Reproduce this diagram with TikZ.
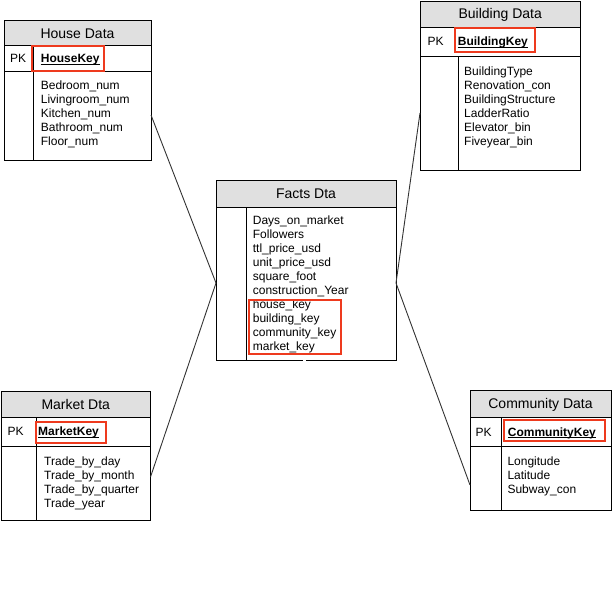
\documentclass[tikz,border=0pt]{standalone}
\usepackage{fontspec}
\setmainfont{Liberation Sans}
\definecolor{hdrgray}{HTML}{E0E0E0}
\definecolor{keyred}{HTML}{EE3A1E}
\definecolor{edgegray}{HTML}{333333}

\begin{document}
\begin{tikzpicture}[x=1pt,y=-1pt,
  tbox/.style={draw=black, line width=1pt, inner sep=0pt, outer sep=0pt, anchor=north west},
  hdr/.style={tbox, fill=hdrgray, font=\fontsize{14}{16}\selectfont, text height=10pt, text depth=0pt},
  rowline/.style={draw=black, line width=1pt},
  keybox/.style={draw=keyred, line width=2pt, inner sep=0pt, outer sep=0pt, anchor=north west},
  fld/.style={anchor=base west, inner sep=0pt, font=\fontsize{12}{14}\selectfont},
  keytxt/.style={fld, font=\fontsize{12}{14}\selectfont\bfseries},
  uline/.style={draw=black, line width=0.9pt},
  link/.style={draw=edgegray, line width=0.9pt}
]
\useasboundingbox (0,0) rectangle (616,597);

% ---------------- House Data ----------------
\node[tbox, minimum width=147, minimum height=139.5] (house) at (4,20.5) {};
\node[hdr, minimum width=147, minimum height=25] (house-h) at (4,20.5) {House Data};
\draw[rowline] (4,71) -- (151,71);
\draw[rowline] (33,45.5) -- (33,160);
\node[fld] (house-pk) at (10,62.8) {PK};
\node[keybox, minimum width=72, minimum height=25] (house-kb) at (32,46) {};
\node[keytxt] (house-k) at (40.7,62.8) {HouseKey};
\draw[uline] ([yshift=-1.8pt]house-k.base west) -- ([yshift=-1.8pt]house-k.base east);
\foreach \t [count=\i from 0] in {Bedroom\_num, Livingroom\_num, Kitchen\_num, Bathroom\_num, Floor\_num}
  \node[fld] (house-f\i) at (40.7,{89.5+14*\i}) {\t};

% ---------------- Building Data ----------------
\node[tbox, minimum width=160.5, minimum height=169] (bldg) at (420,1) {};
\node[hdr, minimum width=160.5, minimum height=26] (bldg-h) at (420,1) {Building Data};
\draw[rowline] (420,56) -- (580.5,56);
\draw[rowline] (458,56) -- (458,170);
\node[fld] (bldg-pk) at (427.5,45.5) {PK};
\node[keybox, minimum width=80, minimum height=24] (bldg-kb) at (455,28) {};
\node[keytxt] (bldg-k) at (457.7,45.5) {BuildingKey};
\draw[uline] ([yshift=-1.8pt]bldg-k.base west) -- ([yshift=-1.8pt]bldg-k.base east);
\foreach \t [count=\i from 0] in {BuildingType, Renovation\_con, BuildingStructure, LadderRatio, Elevator\_bin, Fiveyear\_bin}
  \node[fld] (bldg-f\i) at (464,{75.5+14*\i}) {\t};

% ---------------- Facts Dta ----------------
\node[tbox, minimum width=180, minimum height=179.5] (facts) at (216,180.5) {};
\node[hdr, minimum width=180, minimum height=26.5] (facts-h) at (216,180.5) {Facts Dta};
\draw[rowline] (246,207) -- (246,360);
\foreach \t [count=\i from 0] in {Days\_on\_market, Followers, ttl\_price\_usd, unit\_price\_usd, square\_foot, construction\_Year, house\_key, building\_key, community\_key, market\_key}
  \node[fld] (facts-f\i) at (252.7,{224.4+14*\i}) {\t};
\node[keybox, minimum width=92, minimum height=54] (facts-kb) at (249,300) {};
\draw[white, line width=1.6pt] (303,360) -- (306,360);

% ---------------- Market Dta ----------------
\node[tbox, minimum width=149.5, minimum height=129] (mkt) at (1,391) {};
\node[hdr, minimum width=149.5, minimum height=26] (mkt-h) at (1,391) {Market Dta};
\draw[rowline] (1,446) -- (150.5,446);
\draw[rowline] (36,417) -- (36,520);
\node[fld] (mkt-pk) at (7.5,435.5) {PK};
\node[keybox, minimum width=70, minimum height=21.5] (mkt-kb) at (36,421.7) {};
\node[keytxt] (mkt-k) at (38,435.5) {MarketKey};
\draw[uline] ([yshift=-1.8pt]mkt-k.base west) -- ([yshift=-1.8pt]mkt-k.base east);
\foreach \t [count=\i from 0] in {Trade\_by\_day, Trade\_by\_month, Trade\_by\_quarter, Trade\_year}
  \node[fld] (mkt-f\i) at (44,{465.5+14*\i}) {\t};

% ---------------- Community Data ----------------
\node[tbox, minimum width=141, minimum height=120] (comm) at (470,390) {};
\node[hdr, minimum width=141, minimum height=27] (comm-h) at (470,390) {Community Data};
\draw[rowline] (470,446) -- (611,446);
\draw[rowline] (501,417) -- (501,510);
\node[fld] (comm-pk) at (475.5,436) {PK};
\node[keybox, minimum width=101, minimum height=20.5] (comm-kb) at (503.5,420) {};
\node[keytxt] (comm-k) at (507.7,436) {CommunityKey};
\draw[uline] ([yshift=-1.8pt]comm-k.base west) -- ([yshift=-1.8pt]comm-k.base east);
\foreach \t [count=\i from 0] in {Longitude, Latitude, Subway\_con}
  \node[fld] (comm-f\i) at (507.3,{465.5+14*\i}) {\t};

% ---------------- relationships ----------------
\coordinate (house-e) at (151,115);
\coordinate (bldg-w) at (420,113);
\coordinate (mkt-e) at (150.5,477);
\coordinate (comm-w) at (470,485);
\coordinate (facts-w) at (216,283);
\coordinate (facts-e) at (396,283);
\draw[link] (house-e) -- (facts-w);
\draw[link] (mkt-e) -- (facts-w);
\draw[link] (bldg-w) -- (facts-e);
\draw[link] (comm-w) -- (facts-e);
\end{tikzpicture}
\end{document}
